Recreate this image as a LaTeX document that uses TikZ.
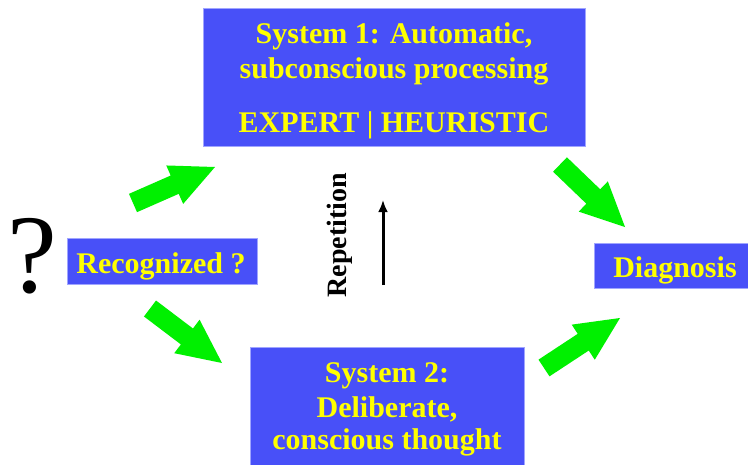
\documentclass[tikz,border=0pt]{standalone}
\usepackage{fontspec}
\setmainfont{Liberation Serif}
\usetikzlibrary{calc,arrows.meta}

\definecolor{boxblue}{RGB}{72,80,248}
\definecolor{boxedge}{RGB}{160,165,255}
\definecolor{textyellow}{RGB}{255,255,0}
\definecolor{arrowgreen}{RGB}{0,240,0}

\tikzset{
  panel/.style={rectangle, fill=boxblue, draw=boxedge, line width=1pt, inner sep=0pt},
  boxtext/.style={anchor=base, inner sep=0pt, text=textyellow,
    font=\fontsize{30}{35}\selectfont\bfseries},
  sidetext/.style={inner sep=0pt, text=black,
    font=\fontsize{28}{32}\selectfont\bfseries},
}

% broad green arrow from a tail point to a tip point
\newcommand\blockarrow[2]{%
  \fill[arrowgreen]
    (#2)
    -- ($($(#2)!44pt!(#1)$)!21pt!90:(#2)$)
    -- ($($(#2)!44pt!(#1)$)!10pt!90:(#2)$)
    -- ($(#1)!10pt!90:(#2)$)
    -- ($(#1)!10pt!-90:(#2)$)
    -- ($($(#2)!44pt!(#1)$)!10pt!-90:(#2)$)
    -- ($($(#2)!44pt!(#1)$)!21pt!-90:(#2)$)
    -- cycle;}

\begin{document}
\begin{tikzpicture}[x=1pt, y=-1pt]
  \useasboundingbox (0,0) rectangle (748,464);
  \fill[white] (0,0) rectangle (748,464);
  \clip (0,0) rectangle (748,464);

  % question mark
  \node[anchor=base, inner sep=0pt, text=black,
    font=\fontsize{112}{112}\selectfont] (qmark) at (32,292) {?};

  % boxes
  \node[panel, minimum width=382pt, minimum height=138pt] (sys1) at (394,77) {};
  \node[panel, minimum width=190pt, minimum height=46pt] (recog) at (162,261) {};
  \node[panel, minimum width=158pt, minimum height=45pt] (diag) at (673,265.5) {};
  \node[panel, minimum width=274pt, minimum height=123pt] (sys2) at (387,408.5) {};

  % box texts
  \node[boxtext] (sys1a) at (394,43) {System 1: Automatic,};
  \node[boxtext] (sys1b) at (394,78) {subconscious processing};
  \node[boxtext] (sys1c) at (394,132) {EXPERT | HEURISTIC};
  \node[boxtext] (recogt) at (161,273) {Recognized ?};
  \node[boxtext] (diagt) at (675,277) {Diagnosis};
  \node[boxtext] (sys2a) at (387,382) {System 2:};
  \node[boxtext] (sys2b) at (387,417) {Deliberate,};
  \node[boxtext] (sys2c) at (387,449) {conscious thought};

  % repetition arrow
  \node[sidetext, rotate=90] (rep) at (340,235) {Repetition};
  \coordinate (rep0) at (383,285);
  \coordinate (rep1) at (383,200);
  \draw[line width=3pt, -{Latex[length=12pt,width=10pt]}] (rep0) -- (rep1);

  % green flow arrows
  \coordinate (a1s) at (133,203);   \coordinate (a1e) at (215,167);
  \coordinate (a2s) at (150,308.5); \coordinate (a2e) at (222,363);
  \coordinate (a3s) at (560,164.5); \coordinate (a3e) at (625,227);
  \coordinate (a4s) at (544,368);   \coordinate (a4e) at (620,318);
  \blockarrow{a1s}{a1e}
  \blockarrow{a2s}{a2e}
  \blockarrow{a3s}{a3e}
  \blockarrow{a4s}{a4e}
\end{tikzpicture}
\end{document}
